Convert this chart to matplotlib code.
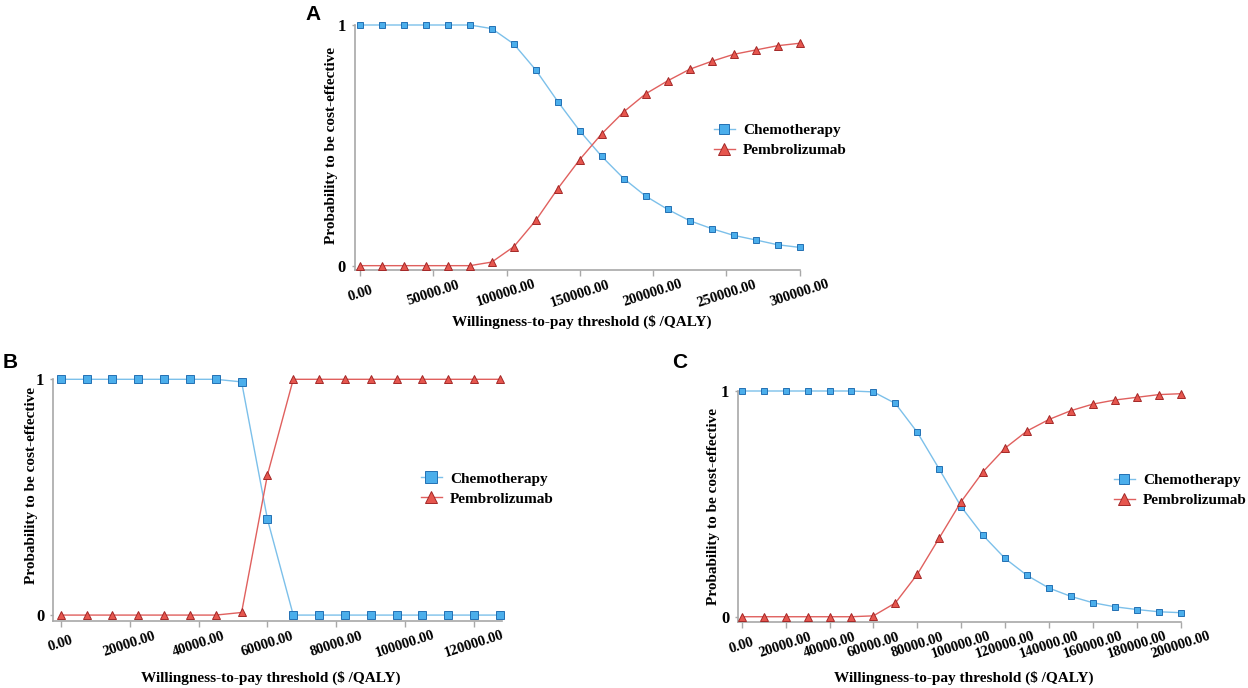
import matplotlib
matplotlib.use("Agg")
import matplotlib.pyplot as plt

plt.rcParams['font.family'] = ['Liberation Serif', 'DejaVu Serif']
plt.rcParams['font.weight'] = 'bold'

# ---------------- data ----------------
a_wtp = [0, 15000, 30000, 45000, 60000, 75000, 90000, 105000, 120000, 135000, 150000,
         165000, 180000, 195000, 210000, 225000, 240000, 255000, 270000, 285000, 300000]
a_chemo = [1, 1, 1, 1, 1, 1, 0.985, 0.921, 0.813, 0.682, 0.560,
           0.454, 0.362, 0.289, 0.234, 0.187, 0.154, 0.126, 0.107, 0.087, 0.076]
a_pembro = [0, 0, 0, 0, 0, 0, 0.015, 0.079, 0.188, 0.320, 0.441,
            0.548, 0.639, 0.714, 0.768, 0.816, 0.849, 0.878, 0.896, 0.914, 0.924]
a_ticks = [0, 50000, 100000, 150000, 200000, 250000, 300000]
a_ticklabels = ["0.00", "50000.00", "100000.00", "150000.00", "200000.00", "250000.00", "300000.00"]

b_wtp = [0, 7500, 15000, 22500, 30000, 37500, 45000, 52500, 60000,
         67500, 75000, 82500, 90000, 97500, 105000, 112500, 120000, 127500]
b_chemo = [1, 1, 1, 1, 1, 1, 1, 0.989, 0.407, 0, 0, 0, 0, 0, 0, 0, 0, 0]
b_pembro = [0, 0, 0, 0, 0, 0, 0, 0.011, 0.594, 1, 1, 1, 1, 1, 1, 1, 1, 1]
b_ticks = [0, 20000, 40000, 60000, 80000, 100000, 120000]
b_ticklabels = ["0.00", "20000.00", "40000.00", "60000.00", "80000.00", "100000.00", "120000.00"]

c_wtp = [0, 10000, 20000, 30000, 40000, 50000, 60000, 70000, 80000, 90000, 100000,
         110000, 120000, 130000, 140000, 150000, 160000, 170000, 180000, 190000, 200000]
c_chemo = [1, 1, 1, 1, 1, 1, 0.996, 0.945, 0.817, 0.654, 0.487,
           0.360, 0.258, 0.183, 0.127, 0.090, 0.062, 0.044, 0.032, 0.022, 0.018]
c_pembro = [0, 0, 0, 0, 0, 0, 0.004, 0.061, 0.188, 0.349, 0.510,
            0.643, 0.747, 0.823, 0.874, 0.913, 0.942, 0.960, 0.972, 0.984, 0.988]
c_ticks = [0, 20000, 40000, 60000, 80000, 100000, 120000, 140000, 160000, 180000, 200000]
c_ticklabels = ["0.00", "20000.00", "40000.00", "60000.00", "80000.00", "100000.00",
                "120000.00", "140000.00", "160000.00", "180000.00", "200000.00"]

series_names = ["Chemotherapy", "Pembrolizumab"]
xlabel_a = "Willingness-to-pay threshold ($ /QALY)"
xlabel_b = "Willingness-to-pay threshold ($ /QALY)"
xlabel_c = "Willingness-to-pay threshold ($ /QALY)"
ylabel = "Probability to be cost-effective"

# ---------------- style ----------------
W, H = 1248, 688
fig = plt.figure(figsize=(W / 100, H / 100), dpi=100)

GRAY = "#A8A8A8"
BLUE_LINE = "#7CC0EA"
BLUE_FACE = "#4BAEEB"
BLUE_EDGE = "#2470B3"
RED_LINE = "#E0605E"
RED_FACE = "#E6564E"
RED_EDGE = "#A32828"


def px_axes(left, right, top, bottom):
    return [left / W, 1 - bottom / H, (right - left) / W, (bottom - top) / H]


def panel(rect, x, chemo, pembro, xlim, ylim_bottom, ticks, ticklabels, msize,
          leg_x, leg_y):
    ax = fig.add_axes(rect)
    ax.plot(x, chemo, color=BLUE_LINE, lw=1.0, marker="s", ms=msize,
            mfc=BLUE_FACE, mec=BLUE_EDGE, mew=0.7, clip_on=False, zorder=3,
            label=series_names[0])
    ax.plot(x, pembro, color=RED_LINE, lw=1.0, marker="^", ms=msize + 0.8,
            mfc=RED_FACE, mec=RED_EDGE, mew=0.7, clip_on=False, zorder=3,
            label=series_names[1])
    ax.set_xlim(*xlim)
    ax.set_ylim(ylim_bottom, 1)
    for s in ("top", "right"):
        ax.spines[s].set_visible(False)
    for s in ("left", "bottom"):
        ax.spines[s].set_color(GRAY)
        ax.spines[s].set_linewidth(1.2)
    ax.set_yticks([0, 1], ["0", "1"], fontsize=12, fontweight="bold")
    ax.set_xticks(ticks, ticklabels, fontsize=10.5, fontweight="bold",
                  rotation=18, ha="center", va="center")
    ax.tick_params(axis="x", direction="out", length=4, width=1.0, color=GRAY, pad=13)
    ax.tick_params(axis="y", direction="out", length=2.5, width=1.0, color=GRAY, pad=4)
    ax.patch.set_alpha(0)
    ax.legend(loc="center left", bbox_to_anchor=(leg_x / W, 1 - leg_y / H),
              bbox_transform=fig.transFigure, frameon=False, borderpad=0,
              borderaxespad=0, handlelength=1.35, handletextpad=0.55,
              labelspacing=0.4, markerscale=1.5,
              prop={"family": "Liberation Serif", "weight": "bold", "size": 11})
    return ax


# Panel A
panel(px_axes(355, 799.5, 25, 270), a_wtp, a_chemo, a_pembro,
      (-3414, 300000), -0.018, a_ticks, a_ticklabels, 4.6, 714, 140.4)
# Panel B
panel(px_axes(53.3, 501.7, 379.3, 620.5), b_wtp, b_chemo, b_pembro,
      (-2148, 128000), -0.023, b_ticks, b_ticklabels, 5.4, 421, 488.8)
# Panel C
panel(px_axes(738.3, 1180.7, 391, 621.7), c_wtp, c_chemo, c_pembro,
      (-1549, 200000), -0.022, c_ticks, c_ticklabels, 4.6, 1114, 490.5)

lab = dict(fontsize=11, fontweight="bold", ha="center", va="center")
fig.text(582 / W, 1 - 322 / H, xlabel_a, **lab)
fig.text(331 / W, 1 - 145 / H, ylabel, rotation=90, **lab)
fig.text(271 / W, 1 - 678 / H, xlabel_b, **lab)
fig.text(31.7 / W, 1 - 486 / H, ylabel, rotation=90, **lab)
fig.text(964 / W, 1 - 678 / H, xlabel_c, **lab)
fig.text(714 / W, 1 - 506.5 / H, ylabel, rotation=90, **lab)

letter = dict(fontsize=15, fontweight="bold", ha="center", va="center",
              family=["Liberation Sans", "DejaVu Sans"])
fig.text(313 / W, 1 - 14 / H, "A", **letter)
fig.text(10 / W, 1 - 362.5 / H, "B", **letter)
fig.text(680 / W, 1 - 362.5 / H, "C", **letter)

fig.savefig("out.png", dpi=100, facecolor="white")
